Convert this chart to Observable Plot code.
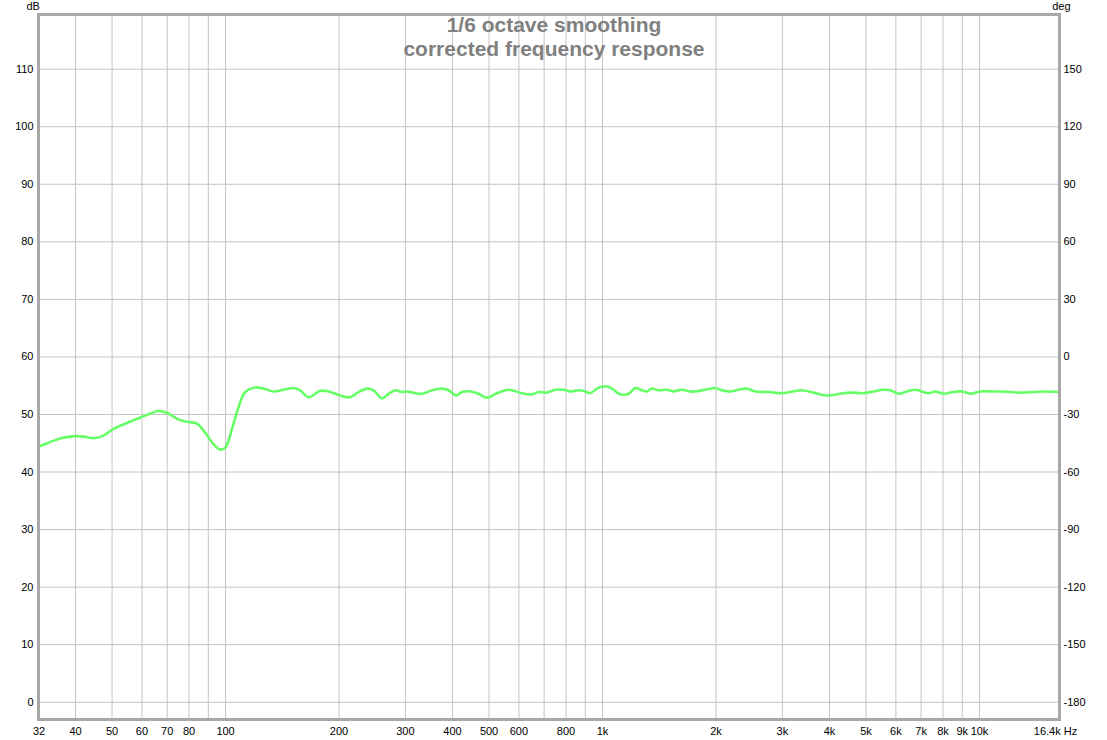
<!DOCTYPE html>
<html>
<head>
<meta charset="utf-8">
<script src="https://cdn.jsdelivr.net/npm/d3@7"></script>
<script src="https://cdn.jsdelivr.net/npm/@observablehq/plot@0.6"></script>
<style>
  html, body { margin: 0; padding: 0; background: #ffffff; }
  #chart { width: 1107px; height: 740px; }
</style>
</head>
<body>
<div id="chart"></div>
<script>
// Frequency (Hz) and level (dB)
const freq = [31.9, 33.9, 36.8, 39.1, 41.6, 44.7, 47.0, 50.4, 54.2, 57.6, 61.2, 66.4, 69.9, 75.1, 79.8, 84.0, 88.4, 93.0, 96.8, 100,
  104, 108.3, 112.8, 119.9, 126.1, 134.1, 142.5, 151.5, 157.8, 166.0, 178.3, 187.6, 201.5, 214.2, 225.3, 237.2, 247.0, 260.0, 270.7, 281.9,
  293.8, 302.9, 318.6, 331.9, 352.7, 375.0, 390.4, 409.2, 423.7, 445.8, 469.0, 493.7, 524.8, 563.2, 611.2, 649.7, 676.4, 712.0, 749.0, 788.1,
  821.0, 863.7, 899.8, 927.6, 966.3, 1017, 1059, 1114, 1172, 1221, 1272, 1312, 1352, 1408, 1482, 1543, 1624, 1709, 1762, 1873,
  1990, 2074, 2182, 2295, 2415, 2541, 2756, 2992, 3147, 3380, 3628, 3937, 4271, 4540, 4924, 5234, 5566, 5797, 6098, 6418,
  6751, 7035, 7322, 7628, 8026, 8531, 8980, 9448, 10044, 10892, 11346, 12058, 12823, 13909, 15096, 16300];
const level = [44.4, 45.1, 45.9, 46.2, 46.2, 45.9, 46.2, 47.5, 48.4, 49.1, 49.8, 50.6, 50.3, 49.1, 48.7, 48.4, 46.8, 44.8, 43.9, 44.3,
  47.5, 51.3, 53.9, 54.7, 54.5, 54.0, 54.3, 54.6, 54.2, 53.0, 54.1, 54.0, 53.3, 53.0, 53.9, 54.5, 54.2, 52.8, 53.6, 54.2,
  53.9, 54.0, 53.7, 53.6, 54.2, 54.5, 54.2, 53.3, 53.9, 54.0, 53.6, 52.9, 53.7, 54.3, 53.7, 53.5, 53.9, 53.8, 54.3, 54.3,
  54.0, 54.2, 54.0, 53.7, 54.5, 54.9, 54.5, 53.5, 53.6, 54.6, 54.2, 54.0, 54.5, 54.2, 54.3, 54.0, 54.3, 54.0, 54.0, 54.3,
  54.6, 54.2, 54.0, 54.3, 54.5, 54.0, 53.9, 53.7, 53.9, 54.2, 53.8, 53.3, 53.6, 53.8, 53.7, 54.0, 54.3, 54.2, 53.6, 54.0,
  54.3, 54.0, 53.7, 54.0, 53.6, 53.9, 54.0, 53.6, 54.0, 54.0, 54.0, 53.9, 53.8, 53.9, 54.0, 53.9];

// Axis ticks and labels
const xTickValues = [32, 40, 50, 60, 70, 80, 100, 200, 300, 400, 500, 600, 800, 1000, 2000, 3000, 4000, 5000, 6000, 7000, 8000, 9000, 10000, 16300];
const xTickLabels = ["32", "40", "50", "60", "70", "80", "100", "200", "300", "400", "500", "600", "800", "1k", "2k", "3k", "4k", "5k", "6k", "7k", "8k", "9k", "10k", "16.4k Hz"];
const xGridValues = [40, 50, 60, 70, 80, 90, 100, 200, 300, 400, 500, 600, 700, 800, 900, 1000, 2000, 3000, 4000, 5000, 6000, 7000, 8000, 9000, 10000];
const dbTicks = [0, 10, 20, 30, 40, 50, 60, 70, 80, 90, 100, 110];
const degLabels = ["-180", "-150", "-120", "-90", "-60", "-30", "0", "30", "60", "90", "120", "150"];
const titleLines = ["1/6 octave smoothing", "corrected frequency response"];
const leftUnit = "dB";
const rightUnit = "deg";

const data = freq.map((f, i) => ({f, db: level[i]}));
const xTicks = xTickValues.map((v, i) => ({v, label: xTickLabels[i], last: i === xTickValues.length - 1}));
const degMap = new Map(dbTicks.map((v, i) => [v, degLabels[i]]));

const chart = Plot.plot({
  width: 1107,
  height: 740,
  marginLeft: 38,
  marginRight: 48,
  marginTop: 14,
  marginBottom: 21,
  x: {type: "log", domain: [31.9, 16300], label: null, axis: null},
  y: {domain: [-3, 119.5], label: null},
  style: {fontFamily: "'Liberation Sans', Arial, sans-serif", fontSize: "11px", background: "#ffffff", color: "#000000"},
  marks: [
    Plot.gridX(xGridValues, {stroke: "#c4c4c4", strokeOpacity: 1, strokeWidth: 1}),
    Plot.gridY(dbTicks, {stroke: "#c4c4c4", strokeOpacity: 1, strokeWidth: 1}),
    Plot.line(data, {x: "f", y: "db", stroke: "#66ff66", strokeWidth: 2.6, curve: "catmull-rom"}),
    Plot.frame({stroke: "#a8a8a8", strokeWidth: 3}),
    Plot.text(xTicks.filter(d => !d.last), {x: "v", text: "label", frameAnchor: "bottom", lineAnchor: "middle", dy: 12, fill: "#000", fontSize: 11}),
    Plot.text(xTicks.filter(d => d.last), {x: "v", text: "label", frameAnchor: "bottom", lineAnchor: "middle", dy: 12, dx: -4, fill: "#000", fontSize: 11}),
    Plot.axisY(dbTicks, {anchor: "left", tickSize: 0, tickPadding: 5, tickFormat: d => String(d), fill: "#000", fontSize: 11, label: null}),
    Plot.axisY(dbTicks, {anchor: "right", tickSize: 0, tickPadding: 4, tickFormat: d => degMap.get(d), fill: "#000", fontSize: 11, label: null}),
    Plot.text([leftUnit], {frameAnchor: "top-left", lineAnchor: "middle", dx: -12, dy: -8, text: d => d, fill: "#000", fontSize: 11}),
    Plot.text([rightUnit], {frameAnchor: "top-right", lineAnchor: "middle", dx: 11, dy: -8, text: d => d, fill: "#000", fontSize: 11}),
    Plot.text([titleLines[0]], {frameAnchor: "top", lineAnchor: "middle", dx: 5, dy: 11, text: d => d, fill: "#808080", fontSize: 21, fontWeight: "bold"}),
    Plot.text([titleLines[1]], {frameAnchor: "top", lineAnchor: "middle", dx: 5, dy: 35, text: d => d, fill: "#808080", fontSize: 21, fontWeight: "bold"})
  ]
});
document.getElementById("chart").appendChild(chart);
</script>
</body>
</html>
